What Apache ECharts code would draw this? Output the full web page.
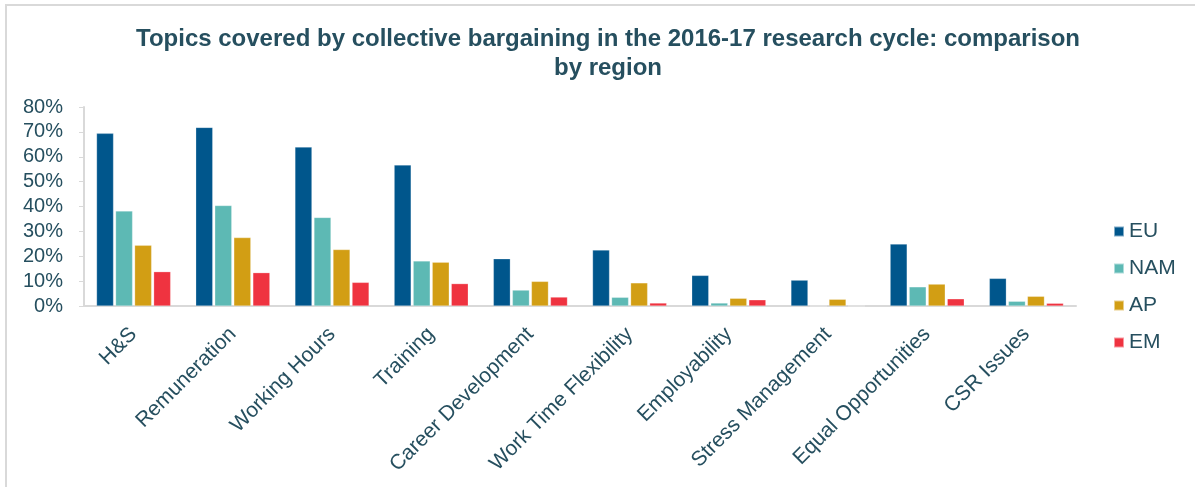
<!DOCTYPE html>
<html>
<head>
<meta charset="utf-8">
<script src="https://cdn.jsdelivr.net/npm/echarts@6/dist/echarts.min.js"></script>
<style>
  html, body { margin: 0; padding: 0; background: #ffffff; }
  #chart { width: 1195px; height: 487px; }
</style>
</head>
<body>
<div id="chart"></div>
<script>
// Share of agreements covering each topic, by region (percent)
const categories = [
  'H&S', 'Remuneration', 'Working Hours', 'Training', 'Career Development',
  'Work Time Flexibility', 'Employability', 'Stress Management',
  'Equal Opportunities', 'CSR Issues'
];
const seriesNames = ['EU', 'NAM', 'AP', 'EM'];
const euValues  = [69.4, 71.8, 63.9, 56.7, 19.0, 22.5, 12.3, 10.4, 24.9, 11.1];
const namValues = [38.2, 40.4, 35.6, 18.1, 6.4, 3.5, 1.2, 0, 7.7, 1.9];
const apValues  = [24.4, 27.5, 22.7, 17.6, 9.9, 9.3, 3.1, 2.7, 8.8, 3.9];
const emValues  = [13.8, 13.4, 9.5, 9.0, 3.6, 1.2, 2.5, 0, 2.9, 1.1];
const yTicks = [0, 10, 20, 30, 40, 50, 60, 70, 80];

const colors = ['#00568c', '#5db9b4', '#d29e14', '#ef3340'];
const textColor = '#264f5f';
const font = '"Liberation Sans", Arial, sans-serif';

const valueSets = [euValues, namValues, apValues, emValues];

const chart = echarts.init(document.getElementById('chart'), null, { renderer: 'canvas' });

chart.setOption({
  backgroundColor: '#ffffff',
  animation: false,
  graphic: [{
    type: 'rect',
    shape: { x: 6, y: 5, width: 1300, height: 600 },
    style: { fill: 'none', stroke: '#d9d9d9', lineWidth: 2 },
    silent: true,
    z: -1
  }],
  title: {
    text: 'Topics covered by collective bargaining in the 2016-17 research cycle: comparison\nby region',
    left: 603,
    top: 20,
    textAlign: 'center',
    textStyle: {
      fontFamily: font,
      fontWeight: 'bold',
      fontSize: 24,
      lineHeight: 29,
      color: textColor
    }
  },
  legend: {
    data: seriesNames,
    orient: 'vertical',
    left: 1108,
    top: 216,
    itemWidth: 10,
    itemHeight: 10,
    itemGap: 16,
    icon: 'rect',
    textStyle: { fontFamily: font, fontSize: 21, color: textColor }
  },
  grid: {
    left: 84,
    right: 119,
    top: 107,
    bottom: 181,
    containLabel: false
  },
  xAxis: {
    type: 'category',
    data: categories,
    axisLine: { lineStyle: { color: '#d9d9d9', width: 2 } },
    axisTick: { show: false },
    axisLabel: {
      rotate: 45,
      interval: 0,
      margin: 25,
      fontFamily: font,
      fontSize: 21,
      color: textColor
    }
  },
  yAxis: {
    type: 'value',
    min: yTicks[0],
    max: yTicks[yTicks.length - 1],
    interval: 10,
    splitLine: { show: false },
    axisLine: { show: true, lineStyle: { color: '#d9d9d9', width: 2 } },
    axisTick: { show: true, length: 5, lineStyle: { color: '#d9d9d9', width: 1 } },
    axisLabel: {
      formatter: '{value}%',
      margin: 21,
      fontFamily: font,
      fontSize: 20,
      color: textColor
    }
  },
  series: seriesNames.map((name, i) => ({
    name: name,
    type: 'bar',
    data: valueSets[i],
    barWidth: 17,
    barGap: '12%',
    itemStyle: { color: colors[i], borderColor: 'rgba(255,255,255,0.5)', borderWidth: 0.5 }
  }))
});
</script>
</body>
</html>
